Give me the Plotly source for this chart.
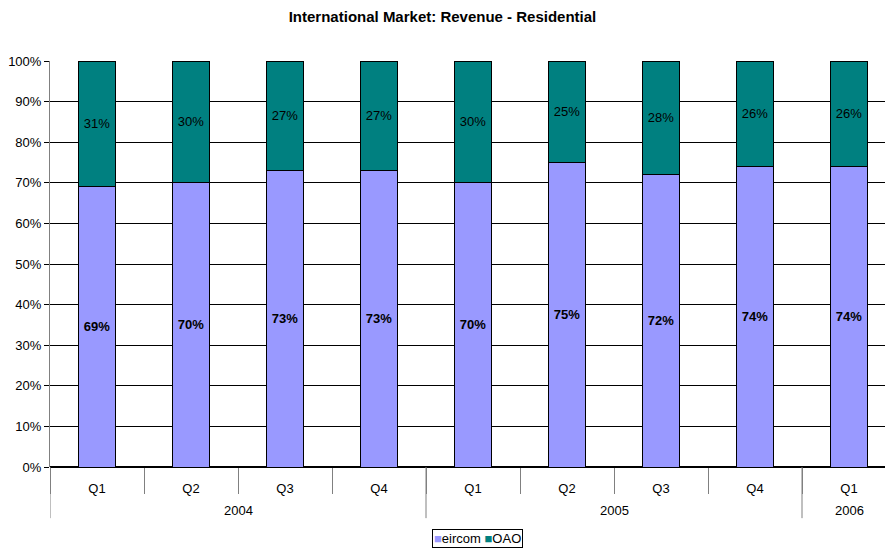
import plotly.graph_objects as go

# Quarterly revenue share, residential international market
quarters = ["Q1", "Q2", "Q3", "Q4", "Q1", "Q2", "Q3", "Q4", "Q1"]
years = ["2004", "2005", "2006"]
quarters_per_year = [4, 4, 1]
eircom = [69, 70, 73, 73, 70, 75, 72, 74, 74]
oao = [31, 30, 27, 27, 30, 25, 28, 26, 26]

FONT = "Liberation Sans, Arial, sans-serif"
EIRCOM_COLOR = "#9999FF"
OAO_COLOR = "#008080"

pos = list(range(len(quarters)))

fig = go.Figure()
fig.add_trace(go.Bar(
    name="eircom",
    x=pos,
    y=eircom,
    marker=dict(color=EIRCOM_COLOR, line=dict(color="#000000", width=1)),
    text=[f"{v}%" for v in eircom],
    textposition="inside",
    insidetextanchor="middle",
    textangle=0,
    textfont=dict(family=FONT, size=13, color="#000000", weight="bold"),
    constraintext="none",
    width=0.4,
))
fig.add_trace(go.Bar(
    name="OAO",
    x=pos,
    y=oao,
    marker=dict(color=OAO_COLOR, line=dict(color="#000000", width=1)),
    text=[f"{v}%" for v in oao],
    textposition="inside",
    insidetextanchor="middle",
    textangle=0,
    textfont=dict(family=FONT, size=13, color="#000000"),
    constraintext="none",
    width=0.4,
))

# Category boundaries (quarter separators) and year group separators
boundaries = [i - 0.5 for i in range(len(quarters) + 1)]
year_edges = [-0.5]
for n in quarters_per_year:
    year_edges.append(year_edges[-1] + n)

shapes = []
for xe in year_edges[:-1]:
    shapes.append(dict(
        type="line", xref="x", yref="paper",
        x0=xe, x1=xe, y0=0, y1=-0.126,
        line=dict(color="#808080", width=1),
    ))

annotations = []
for yr, a, b in zip(years, year_edges[:-1], year_edges[1:]):
    annotations.append(dict(
        text=yr, xref="x", yref="paper",
        x=(a + b) / 2, y=-0.106,
        xanchor="center", yanchor="middle", showarrow=False,
        font=dict(family=FONT, size=13, color="#000000"),
    ))

# Compact boxed legend below the axis
annotations.append(dict(
    text=(f"<span style='color:{EIRCOM_COLOR}'>■</span>eircom "
          f"<span style='color:{OAO_COLOR}'>■</span>OAO"),
    xref="paper", yref="paper",
    x=(477 - 50) / 835, y=-(538 - 467) / 406,
    xanchor="center", yanchor="middle", showarrow=False,
    font=dict(family=FONT, size=13, color="#000000"),
    bordercolor="#000000", borderwidth=1, borderpad=1,
    bgcolor="#FFFFFF",
))

fig.update_layout(
    barmode="stack",
    width=885,
    height=548,
    margin=dict(l=50, r=0, t=61, b=81, autoexpand=False),
    paper_bgcolor="#FFFFFF",
    plot_bgcolor="#FFFFFF",
    font=dict(family=FONT, size=13, color="#000000"),
    title=dict(
        text="<b>International Market: Revenue - Residential</b>",
        x=0.5, xanchor="center", y=1 - 17 / 548, yanchor="middle",
        font=dict(family=FONT, size=15, color="#000000"),
    ),
    showlegend=False,
    shapes=shapes,
    annotations=annotations,
    xaxis=dict(
        range=[-0.5, 8.383],
        tickmode="array",
        tickvals=pos,
        ticktext=quarters,
        ticks="",
        ticklen=0,
        ticklabelstandoff=12,
        showgrid=False,
        showline=False,
        zeroline=False,
        automargin=False,
        minor=dict(
            tickmode="array",
            tickvals=boundaries,
            ticks="outside",
            ticklen=26,
            tickcolor="#808080",
            tickwidth=1,
            showgrid=False,
        ),
        tickfont=dict(family=FONT, size=13),
    ),
    yaxis=dict(
        range=[0, 100],
        tickvals=list(range(0, 101, 10)),
        ticktext=[f"{v}%" for v in range(0, 101, 10)],
        showgrid=True,
        gridcolor="#000000",
        gridwidth=1,
        showline=True,
        linecolor="#808080",
        linewidth=1,
        ticks="outside",
        ticklen=5,
        tickcolor="#000000",
        zeroline=True,
        zerolinecolor="#000000",
        automargin=False,
        tickfont=dict(family=FONT, size=13),
    ),
)

fig.write_html("out.html")
